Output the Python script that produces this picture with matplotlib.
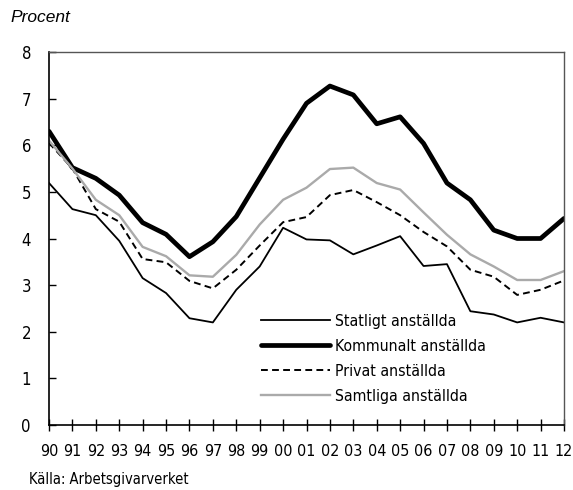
import matplotlib
matplotlib.use("Agg")
import matplotlib.pyplot as plt
from matplotlib import font_manager as fm

years = ["90", "91", "92", "93", "94", "95", "96", "97", "98", "99", "00", "01",
         "02", "03", "04", "05", "06", "07", "08", "09", "10", "11", "12"]
statligt = [5.19, 4.63, 4.5, 3.95, 3.15, 2.83, 2.29, 2.2, 2.9, 3.4, 4.23, 3.98,
            3.96, 3.66, 3.85, 4.05, 3.41, 3.45, 2.44, 2.37, 2.2, 2.3, 2.2]
kommunalt = [6.3, 5.52, 5.29, 4.93, 4.34, 4.09, 3.61, 3.93, 4.47, 5.3, 6.13, 6.9,
             7.27, 7.08, 6.46, 6.61, 6.04, 5.19, 4.83, 4.18, 4.0, 4.0, 4.43]
privat = [6.05, 5.5, 4.63, 4.36, 3.56, 3.49, 3.09, 2.93, 3.33, 3.85, 4.35, 4.46,
          4.93, 5.04, 4.78, 4.5, 4.14, 3.83, 3.33, 3.18, 2.79, 2.9, 3.1]
samtliga = [6.1, 5.5, 4.83, 4.5, 3.82, 3.62, 3.21, 3.18, 3.65, 4.3, 4.83, 5.09,
            5.49, 5.52, 5.19, 5.05, 4.56, 4.08, 3.66, 3.4, 3.11, 3.11, 3.3]
labels = ["Statligt anställda", "Kommunalt anställda", "Privat anställda", "Samtliga anställda"]

# pick a condensed font file if available
cond_path = None
for f in fm.fontManager.ttflist:
    fn = f.fname.lower()
    if ("condensed" in fn or "narrow" in fn) and "bold" not in fn and "italic" not in fn \
            and "oblique" not in fn and "light" not in fn and "semi" not in fn:
        if cond_path is None or "dejavusanscondensed" in fn.replace("-", ""):
            cond_path = f.fname
if cond_path:
    cfont = fm.FontProperties(fname=cond_path)
else:
    cfont = fm.FontProperties(family="DejaVu Sans", stretch="condensed")

def fp(size):
    p = cfont.copy()
    p.set_size(size)
    return p

fig = plt.figure(figsize=(5.73, 4.90), dpi=100)
ax = fig.add_axes([49/573, 1-425/490, (564-49)/573, (425-52)/490])

x = list(range(len(years)))
ax.plot(x, statligt, color="black", lw=1.3, label=labels[0])
ax.plot(x, kommunalt, color="black", lw=3.4, label=labels[1], solid_capstyle="round")
ax.plot(x, privat, color="black", lw=1.4, ls=(0, (3.5, 2.2)), label=labels[2])
ax.plot(x, samtliga, color="#aaaaaa", lw=1.7, label=labels[3])

ax.set_xlim(0, len(years)-1)
ax.set_ylim(0, 8)
ax.set_xticks(x)
ax.set_xticklabels(years, fontproperties=fp(11.5))
ax.set_yticks(range(0, 9))
ax.set_yticklabels([str(v) for v in range(0, 9)], fontproperties=fp(12))
ax.tick_params(axis='y', direction='in', length=5, pad=13, width=1)
ax.tick_params(axis='x', direction='inout', length=9, pad=9, width=1)
for s in ["left", "bottom"]:
    ax.spines[s].set_color("black")
    ax.spines[s].set_linewidth(1.2)
for s in ["top", "right"]:
    ax.spines[s].set_color("#555555")
    ax.spines[s].set_linewidth(1.0)

leg = ax.legend(loc="lower left", bbox_to_anchor=((261-49)/515, 0.057), frameon=False,
                prop=fp(11.3), handlelength=4.4, handletextpad=0.3, labelspacing=0.64,
                borderaxespad=0, borderpad=0)

fig.text(10/573, 1-18/490, "Procent", fontsize=12.5, style="italic",
         family=["Liberation Sans", "DejaVu Sans"], va="center", ha="left")
fig.text(29/573, 1-479/490, "Källa: Arbetsgivarverket", fontproperties=fp(10.5),
         va="center", ha="left")

fig.savefig("out.png", dpi=100)
